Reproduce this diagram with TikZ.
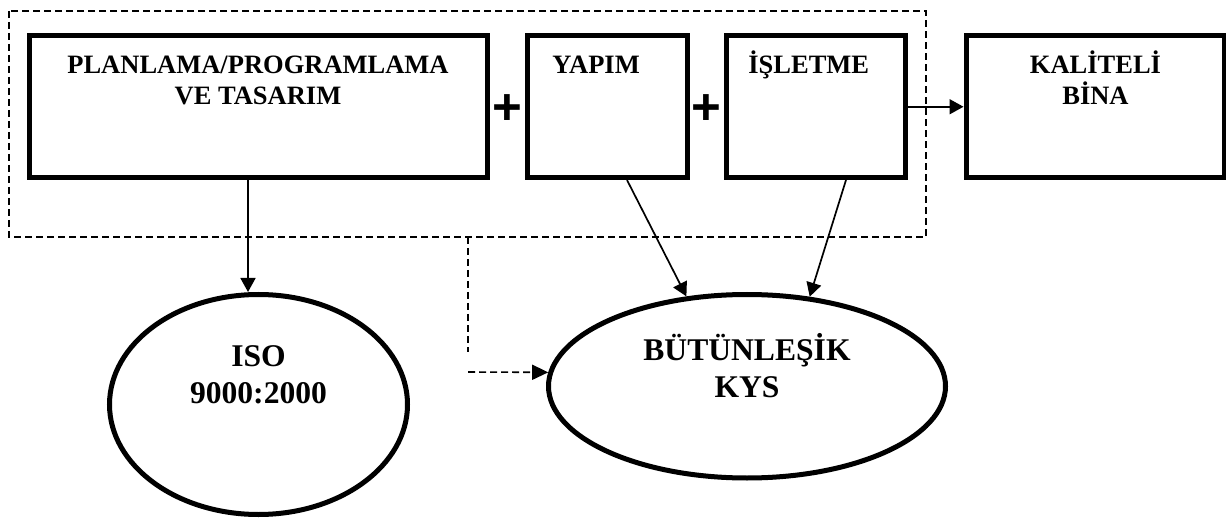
\documentclass[tikz,border=0pt]{standalone}
\usepackage{fontspec}
\setmainfont{Liberation Serif}
\newfontfamily\plusfont{Liberation Sans}
\usetikzlibrary{shapes.geometric,arrows.meta,calc}

\begin{document}
\begin{tikzpicture}[x=0.5pt, y=-0.5pt,
    box/.style={draw, line width=2.5pt, inner sep=0pt, minimum height=70.75pt},
    oval/.style={draw, ellipse, line width=2.5pt, inner sep=0pt},
    boxtext/.style={font=\fontsize{13.25pt}{15.5pt}\selectfont\bfseries, inner sep=0pt, align=center},
    ovaltext/.style={font=\fontsize{15.8pt}{18.25pt}\selectfont\bfseries, inner sep=0pt, align=center},
    plus/.style={font=\plusfont\fontsize{25.5pt}{25.5pt}\selectfont\bfseries, inner sep=0pt},
    link/.style={line width=0.85pt, -{Triangle[length=7pt, width=7.5pt]}},
    frame/.style={line width=0.8pt, dash pattern=on 3.5pt off 2pt}]
    \useasboundingbox (0, 0) rectangle (1226, 518);

    % Steps
    \node [box, minimum width=229pt] (plan) at (258, 106.75) {};
    \node [box, minimum width=80pt] (yapim) at (607.5, 106.75) {};
    \node [box, minimum width=89.5pt] (isletme) at (816, 106.75) {};
    \node [box, minimum width=129.25pt] (bina) at (1095.25, 106.75) {};
    \node [boxtext, anchor=base] (plantext) at (258, 105) {PLANLAMA/PROGRAMLAMA\\VE TASARIM};
    \node [boxtext, anchor=base west] (yapimtext) at (552, 74) {YAPIM};
    \node [boxtext, anchor=base west] (isletmetext) at (748, 74) {İŞLETME};
    \node [boxtext, anchor=base] (binatext) at (1095.5, 105) {KALİTELİ\\BİNA};
    \node [plus] (plus1) at (507.5, 110) {+};
    \node [plus] (plus2) at (706.5, 110) {+};

    % Systems
    \node [oval, minimum width=149pt, minimum height=110pt] (iso) at (258.5, 404.5) {};
    \node [ovaltext, anchor=base] (isotext) at (258.5, 403) {ISO\\9000:2000};
    \node [oval, minimum width=198.5pt, minimum height=91.75pt] (kys) at (747, 386.25) {};
    \node [ovaltext, anchor=base] (kystext) at (747, 397) {BÜTÜNLEŞİK\\KYS};

    % Dashed frame
    \draw [frame] (9, 11) rectangle (926, 237);
    \coordinate (framedrop) at (468, 237);
    \coordinate (dropend) at (468, 352);
    \coordinate (feedstart) at (468, 372);
    \draw [frame] (framedrop) -- (dropend);
    \draw [frame, -{Triangle[length=8pt, width=7.5pt]}] (feedstart) -- (kys.176);

    % Links
    \draw [link] ([xshift=-5pt]plan.south) -- ([xshift=-5pt]plan.south |- iso.north);
    \draw [link] ([xshift=9.75pt]yapim.south) -- (kys.124);
    \draw [link] ([xshift=15pt]isletme.south) -- (kys.55);
    \draw [link] (isletme.east) -- (bina.west);
\end{tikzpicture}
\end{document}
